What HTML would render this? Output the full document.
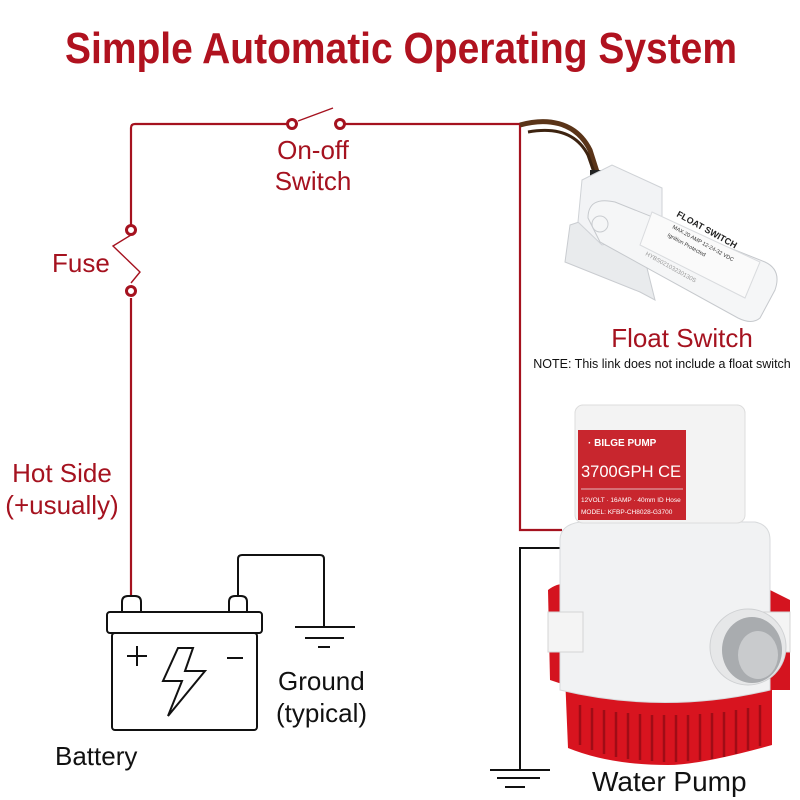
<!DOCTYPE html>
<html><head><meta charset="utf-8"><style>
html,body{margin:0;padding:0;background:#fff}
svg{display:block}
text{font-family:"Liberation Sans",sans-serif}
</style></head><body>
<svg width="800" height="800" viewBox="0 0 800 800" xmlns="http://www.w3.org/2000/svg">
<rect width="800" height="800" fill="#fff"/>
<text x="401" y="63" text-anchor="middle" font-size="44" font-weight="bold" fill="#b0121f" textLength="672" lengthAdjust="spacingAndGlyphs">Simple Automatic Operating System</text>

<!-- red wires -->
<g stroke="#a5121f" stroke-width="2.2" fill="none">
<path d="M131 228 V128 Q131 124 135 124 H287"/>
<path d="M345 124 H520 V530 H562"/>
<path d="M131 298 V598"/>
<path d="M298 121 L333 108" stroke-width="1.4"/>
<path d="M131 235 L113 246 L140 272 L131 283" stroke-width="1.4"/>
</g>
<g fill="#fff" stroke="#a5121f" stroke-width="3">
<circle cx="292" cy="124" r="4.5"/><circle cx="340" cy="124" r="4.5"/>
<circle cx="131" cy="230" r="4.5"/><circle cx="131" cy="291" r="4.5"/>
</g>

<!-- black wires / grounds -->
<g stroke="#111" stroke-width="2" fill="none">
<path d="M238 598 V559 Q238 555 242 555 H320 Q324 555 324 559 V627"/>
<path d="M295 627 H355 M305 638 H344 M318 647 H330"/>
<path d="M563 548 H520 V770"/>
<path d="M490 770 H550 M497 778 H540 M505 787 H525"/>
</g>

<!-- battery -->
<g stroke="#111" stroke-width="2" fill="#fff">
<path d="M122 612 V602 Q122 596 128 596 H135 Q141 596 141 602 V612 Z"/>
<path d="M229 612 V602 Q229 596 235 596 H241 Q247 596 247 602 V612 Z"/>
<rect x="107" y="612" width="155" height="21" rx="3"/>
<rect x="112" y="633" width="145" height="97" rx="3"/>
<path d="M137 646 V666 M127 656 H147 M227 658 H243" fill="none"/>
<path d="M178 648 H193 L185 671 H205 L168 716 L182 681 H163 Z" fill="#fff"/>
</g>

<!-- float switch -->
<g>
<path d="M520 125 C545 118 575 120 590 150 L598 175" stroke="#5a3418" stroke-width="5" fill="none"/>
<path d="M528 132 C550 128 575 130 588 155 L596 178" stroke="#3d2310" stroke-width="3" fill="none"/>
<rect x="590" y="170" width="14" height="20" fill="#222"/>
<path d="M570 225 L600 215 L640 240 L655 300 L640 292 L565 262 Z" fill="#e9ebed" stroke="#c9ccd0"/>
<path d="M582 180 L612 165 L662 188 L662 232 L602 245 L578 222 Z" fill="#f2f3f5" stroke="#cfd2d6"/>
<path d="M588 218 Q588 196 615 202 L765 262 Q782 270 775 290 L760 318 Q752 325 738 318 L600 242 Z" fill="#f5f6f7" stroke="#c6c9cd"/>
<path d="M652 212 L760 262 L745 298 L640 245 Z" fill="#fafafa" stroke="#d9dbde"/>
<circle cx="600" cy="224" r="8" fill="none" stroke="#c9ccd0"/>
<text x="0" y="0" font-size="9" font-weight="bold" fill="#222" transform="translate(676 216) rotate(29)">FLOAT SWITCH</text>
<text x="0" y="0" font-size="5.5" fill="#333" transform="translate(672 228) rotate(29)">MAX.20 AMP 12-24-32 VDC</text>
<text x="0" y="0" font-size="5.5" fill="#333" transform="translate(667 236) rotate(29)">Ignition Protected</text>
<text x="0" y="0" font-size="6" fill="#999" transform="translate(645 255) rotate(29)">HYBS02103230130S</text>
</g>

<!-- pump -->
<g>
<path d="M548 590 Q560 580 580 585 L580 690 L550 680 Z" fill="#d4141f"/>
<path d="M770 590 L790 600 L790 690 L770 690 Z" fill="#d4141f"/>
<path d="M565 675 H772 V745 Q700 765 668 765 Q610 765 568 748 Z" fill="#d8141f"/>
<g stroke="#a00c16" stroke-width="2.5">
<path d="M580 705V745 M592 708V750 M604 710V754 M616 712V757 M628 713V759 M640 714V760 M652 715V761 M664 715V762 M676 715V762 M688 715V761 M700 714V760 M712 713V759 M724 712V757 M736 710V754 M748 708V750 M760 705V746"/>
</g>
<path d="M560 540 Q560 525 580 522 H755 Q770 525 770 540 V690 Q665 715 560 690 Z" fill="#f1f2f3" stroke="#d8dadc"/>
<rect x="548" y="612" width="35" height="40" fill="#f4f4f4" stroke="#d4d4d4"/>
<rect x="758" y="612" width="32" height="40" fill="#f4f4f4" stroke="#d4d4d4"/>
<rect x="575" y="405" width="170" height="118" rx="8" fill="#f3f3f3" stroke="#dcdcdc"/>
<rect x="578" y="430" width="108" height="90" fill="#c8262e"/>
<text x="588" y="446" font-size="10" font-weight="bold" fill="#fff">· BILGE PUMP</text>
<text x="581" y="477" font-size="17" fill="#fff" textLength="100" lengthAdjust="spacingAndGlyphs">3700GPH  CE</text>
<line x1="581" y1="489" x2="683" y2="489" stroke="#eee" stroke-width="0.8"/>
<text x="581" y="502" font-size="6.5" fill="#fff">12VOLT · 16AMP · 40mm ID Hose</text>
<text x="581" y="514" font-size="6.5" fill="#fff">MODEL: KFBP-CH8028-G3700</text>
<circle cx="748" cy="647" r="38" fill="#e6e7e8" stroke="#cfd1d3"/>
<ellipse cx="752" cy="650" rx="30" ry="33" fill="#a9acaf"/>
<ellipse cx="758" cy="655" rx="20" ry="24" fill="#c9cbcd"/>
</g>

<!-- labels -->
<g fill="#a5121f" font-size="26">
<text x="313" y="159" text-anchor="middle">On-off</text>
<text x="313" y="190" text-anchor="middle">Switch</text>
<text x="52" y="272">Fuse</text>
<text x="62" y="482" text-anchor="middle">Hot Side</text>
<text x="62" y="514" text-anchor="middle">(+usually)</text>
<text x="682" y="347" text-anchor="middle">Float Switch</text>
</g>
<text x="662" y="368" text-anchor="middle" font-size="12.5" fill="#111">NOTE: This link does not include a float switch</text>
<g fill="#111" font-size="26">
<text x="278" y="690">Ground</text>
<text x="276" y="722">(typical)</text>
<text x="55" y="765">Battery</text>
<text x="592" y="791" font-size="28">Water Pump</text>
</g>
</svg>
</body></html>
